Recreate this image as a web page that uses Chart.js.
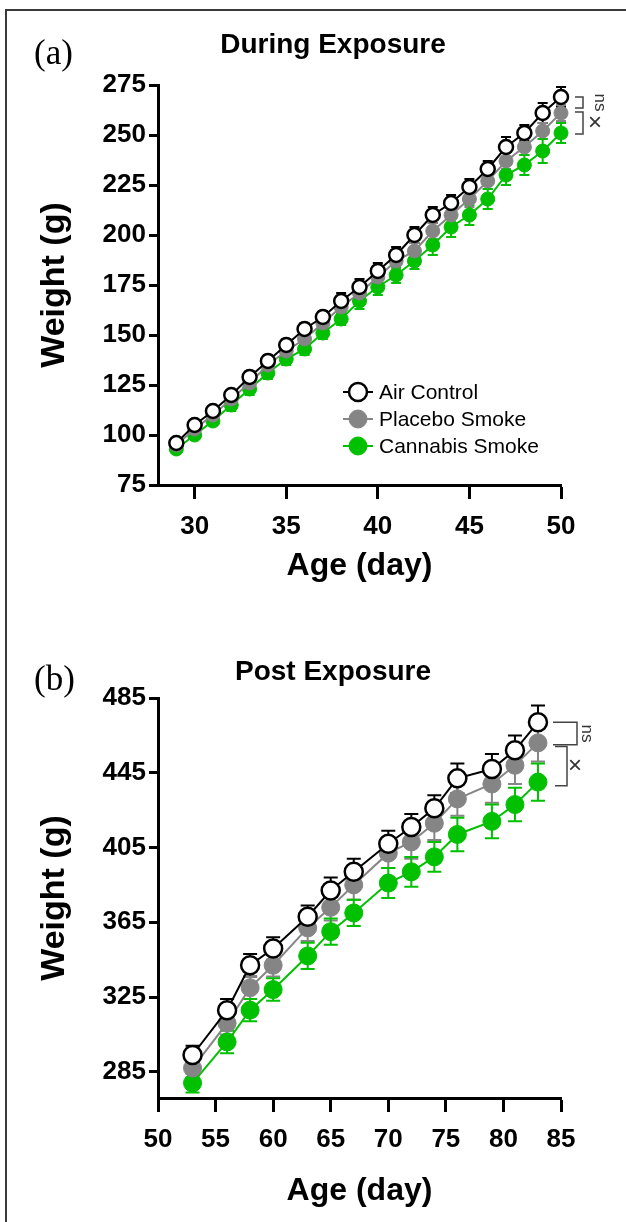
<!DOCTYPE html>
<html>
<head>
<meta charset="utf-8">
<script src="https://cdn.jsdelivr.net/npm/chart.js@4.4.1/dist/chart.umd.min.js"></script>
<style>
  body { margin: 0; background: #fff; width: 626px; height: 1222px; overflow: hidden; position: relative; }
  .frame { position: absolute; left: 5px; top: 9px; width: 700px; height: 1300px; border-left: 2px solid #3a3a3a; border-top: 2px solid #3a3a3a; }
  .panel { position: absolute; left: 0; }
  .tag { position: absolute; left: 34px; font-family: "Liberation Serif", "Times New Roman", serif; font-size: 35px; color: #000; }
</style>
</head>
<body>
<div class="frame"></div>
<canvas id="chartA" class="panel" style="top:0" width="626" height="600"></canvas>
<canvas id="chartB" class="panel" style="top:600px" width="626" height="622"></canvas>
<div class="tag" style="top:33px">(a)</div>
<div class="tag" style="top:659px">(b)</div>
<script>
// (a) During exposure
const daysA = [29, 30, 31, 32, 33, 34, 35, 36, 37, 38, 39, 40, 41, 42, 43, 44, 45, 46, 47, 48, 49, 50];
const airA = [96, 105, 112, 120, 129, 137, 145, 153, 159, 167, 174, 182, 190, 200, 210, 216, 224, 233, 244, 251, 261, 269];
const placeboA = [95, 103, 110, 118, 126, 135, 142, 148, 156, 164, 171, 179, 187, 192, 202, 210, 218, 227, 237, 244, 252, 261];
const cannabisA = [93, 100, 107, 115, 123, 131, 138, 143, 151, 158, 167, 174, 180, 187, 195, 204, 210, 218, 230, 235, 242, 251];
const airErrA = [2, 2, 2, 2, 3, 3, 3, 3, 3, 4, 4, 4, 4, 4, 4, 4, 4, 4, 5, 4, 5, 5];
const placeboErrA = [2, 2, 2, 2, 2, 3, 3, 3, 3, 3, 3, 3, 4, 4, 4, 4, 4, 4, 4, 4, 4, 4];
const cannabisErrA = [2, 2, 2, 3, 3, 3, 3, 3, 3, 3, 4, 4, 4, 4, 5, 5, 5, 5, 5, 5, 6, 5];
const xTicksA = [30, 35, 40, 45, 50];
const yTicksA = [75, 100, 125, 150, 175, 200, 225, 250, 275];

// (b) Post exposure
const daysB = [53, 56, 58, 60, 63, 65, 67, 70, 72, 74, 76, 79, 81, 83];
const airB = [294, 318, 342, 351, 368, 382, 392, 407, 416, 426, 442, 447, 457, 472];
const placeboB = [287, 311, 330, 342, 362, 373, 385, 402, 408, 418, 431, 439, 449, 461];
const cannabisB = [279, 301, 318, 329, 347, 360, 370, 386, 392, 400, 412, 419, 428, 440];
const airErrB = [5, 6, 6, 6, 6, 7, 7, 7, 7, 7, 8, 8, 8, 9];
const placeboErrB = [5, 6, 6, 6, 7, 7, 8, 8, 9, 9, 9, 10, 10, 10];
const cannabisErrB = [5, 6, 6, 6, 7, 7, 7, 8, 8, 8, 9, 9, 9, 10];
const xTicksB = [50, 55, 60, 65, 70, 75, 80, 85];
const yTicksB = [285, 325, 365, 405, 445, 485];

const seriesNames = ['Air Control', 'Placebo Smoke', 'Cannabis Smoke'];
const lineColors = ['#000000', '#858585', '#00c000'];
const fillColors = ['#ffffff', '#858585', '#00c000'];

const FONT = '"Liberation Sans", Arial, sans-serif';

// panel title, centred a little left of the plot area like the original
const panelTitle = {
  id: 'panelTitle',
  afterDraw(chart, args, opts) {
    const ctx = chart.ctx;
    ctx.save();
    ctx.fillStyle = '#000';
    ctx.font = 'bold ' + opts.size + 'px ' + FONT;
    ctx.textAlign = 'center';
    ctx.textBaseline = 'middle';
    ctx.fillText(opts.text, opts.x, opts.y);
    ctx.restore();
  }
};

// vertical error bars with caps, under the markers
const errorBars = {
  id: 'errorBars',
  beforeDatasetsDraw(chart, args, opts) {
    const ctx = chart.ctx;
    const yScale = chart.scales.y;
    chart.data.datasets.forEach((ds, di) => {
      const meta = chart.getDatasetMeta(di);
      ctx.save();
      ctx.strokeStyle = ds.borderColor;
      ctx.lineWidth = 2;
      meta.data.forEach((pt, i) => {
        const e = ds.errors[i];
        const top = yScale.getPixelForValue(ds.data[i].y + e);
        const bot = yScale.getPixelForValue(ds.data[i].y - e);
        ctx.beginPath();
        ctx.moveTo(pt.x, top); ctx.lineTo(pt.x, bot);
        ctx.moveTo(pt.x - opts.cap, top); ctx.lineTo(pt.x + opts.cap, top);
        ctx.moveTo(pt.x - opts.cap, bot); ctx.lineTo(pt.x + opts.cap, bot);
        ctx.stroke();
      });
      ctx.restore();
    });
  }
};

// significance brackets at the right end of the lines
const brackets = {
  id: 'brackets',
  afterDraw(chart, args, opts) {
    const ctx = chart.ctx;
    const yScale = chart.scales.y;
    const right = chart.chartArea.right;
    ctx.save();
    ctx.strokeStyle = '#444';
    ctx.fillStyle = '#333';
    ctx.lineWidth = 1.5;
    opts.items.forEach(b => {
      const y0 = yScale.getPixelForValue(b.from);
      const y1 = yScale.getPixelForValue(b.to);
      ctx.beginPath();
      ctx.moveTo(right + b.x0, y0);
      ctx.lineTo(right + b.x1, y0);
      ctx.lineTo(right + b.x1, y1);
      ctx.lineTo(right + b.x0, y1);
      ctx.stroke();
      ctx.save();
      ctx.translate(right + b.lx, (y0 + y1) / 2);
      if (b.rotate) ctx.rotate(Math.PI / 2);
      ctx.font = b.size + 'px ' + FONT;
      ctx.textAlign = 'center';
      ctx.textBaseline = 'middle';
      ctx.fillText(b.text, 0, 0);
      ctx.restore();
    });
    ctx.restore();
  }
};

// legend with a short line through each marker
const lineLegend = {
  id: 'lineLegend',
  afterDraw(chart, args, opts) {
    if (!opts.show) return;
    const ctx = chart.ctx;
    ctx.save();
    chart.data.datasets.forEach((ds, i) => {
      const y = opts.top + i * opts.gap;
      ctx.strokeStyle = ds.borderColor;
      ctx.lineWidth = 2;
      ctx.beginPath();
      ctx.moveTo(opts.x - 15, y); ctx.lineTo(opts.x + 15, y);
      ctx.stroke();
      ctx.beginPath();
      ctx.arc(opts.x, y, opts.r, 0, Math.PI * 2);
      ctx.fillStyle = ds.pointBackgroundColor;
      ctx.fill();
      ctx.lineWidth = ds.pointBorderWidth;
      ctx.strokeStyle = ds.pointBorderColor;
      ctx.stroke();
      ctx.fillStyle = '#000';
      ctx.font = opts.size + 'px ' + FONT;
      ctx.textAlign = 'left';
      ctx.textBaseline = 'middle';
      ctx.fillText(ds.label, opts.x + 21, y + 1);
    });
    ctx.restore();
  }
};

function makeChart(id, cfg) {
  const datasets = seriesNames.map((name, i) => ({
    label: name,
    data: cfg.days.map((d, j) => ({ x: d, y: cfg.values[i][j] })),
    errors: cfg.errors[i],
    borderColor: lineColors[i],
    backgroundColor: fillColors[i],
    pointBackgroundColor: fillColors[i],
    pointBorderColor: lineColors[i],
    pointBorderWidth: i === 0 ? 2.5 : 1,
    pointRadius: cfg.radius,
    borderWidth: 2,
    tension: 0,
    clip: false
  }));

  const tickFont = { family: FONT, size: 26, weight: 'bold' };
  const titleFont = { family: FONT, size: 32, weight: 'bold' };

  return new Chart(document.getElementById(id), {
    type: 'line',
    data: { datasets: datasets },
    plugins: [errorBars, brackets, lineLegend, panelTitle],
    options: {
      responsive: false,
      animation: false,
      layout: { padding: { left: 0, right: 65, top: cfg.plotTop, bottom: 0 } },
      plugins: {
        legend: { display: false },
        tooltip: { enabled: false },
        title: { display: false },
        panelTitle: cfg.title,
        errorBars: { cap: cfg.cap },
        brackets: { items: cfg.brackets },
        lineLegend: cfg.legend
      },
      scales: {
        x: {
          type: 'linear',
          min: cfg.xMin,
          max: cfg.xMax,
          afterBuildTicks: s => { s.ticks = cfg.xTicks.map(v => ({ value: v })); },
          afterFit: s => { s.height = cfg.xAxisHeight; },
          grid: { drawOnChartArea: false, drawTicks: true, tickLength: 14, tickWidth: 3, tickColor: '#000' },
          border: { display: true, width: 3, color: '#000' },
          ticks: { color: '#000', font: tickFont, padding: 12, maxRotation: 0, autoSkip: false },
          title: { display: true, text: 'Age (day)', color: '#000', font: titleFont, padding: { top: 0, bottom: cfg.xTitlePad } }
        },
        y: {
          min: cfg.yMin,
          max: cfg.yMax,
          afterBuildTicks: s => { s.ticks = cfg.yTicks.map(v => ({ value: v })); },
          afterFit: s => { s.width = 158; },
          grid: { drawOnChartArea: false, drawTicks: true, tickLength: 9, tickWidth: 3, tickColor: '#000' },
          border: { display: true, width: 3, color: '#000' },
          ticks: { color: '#000', font: tickFont, padding: 3, autoSkip: false },
          title: { display: true, text: 'Weight (g)', color: '#000', font: { family: FONT, size: 34, weight: 'bold' }, padding: { top: 34, bottom: 0 } }
        }
      }
    }
  });
}

makeChart('chartA', {
  title: { text: 'During Exposure', x: 333, y: 45, size: 28 },
  plotTop: 85,
  days: daysA,
  values: [airA, placeboA, cannabisA],
  errors: [airErrA, placeboErrA, cannabisErrA],
  radius: 7,
  cap: 5,
  xMin: 28, xMax: 50, xTicks: xTicksA,
  yMin: 75, yMax: 275, yTicks: yTicksA,
  xAxisHeight: 115,
  xTitlePad: 15,
  brackets: [
    { from: 269, to: 263.5, x0: 14, x1: 22, text: 'ns', lx: 39, rotate: true, size: 17 },
    { from: 261.5, to: 250.5, x0: 14, x1: 22, text: '\u00d7', lx: 34, size: 24 }
  ],
  legend: { show: true, x: 358, top: 392, gap: 27, r: 9, size: 21 }
});

makeChart('chartB', {
  title: { text: 'Post Exposure', x: 333, y: 72, size: 28 },
  plotTop: 98,
  days: daysB,
  values: [airB, placeboB, cannabisB],
  errors: [airErrB, placeboErrB, cannabisErrB],
  radius: 9,
  cap: 7,
  xMin: 50, xMax: 85, xTicks: xTicksB,
  yMin: 271, yMax: 485, yTicks: yTicksB,
  xAxisHeight: 124,
  xTitlePad: 12,
  brackets: [
    { from: 472, to: 460, x0: -8, x1: 16, text: 'ns', lx: 26, rotate: true, size: 17 },
    { from: 459, to: 438, x0: -6, x1: 6, text: '\u00d7', lx: 14, size: 24 }
  ],
  legend: { show: false }
});
</script>
</body>
</html>
